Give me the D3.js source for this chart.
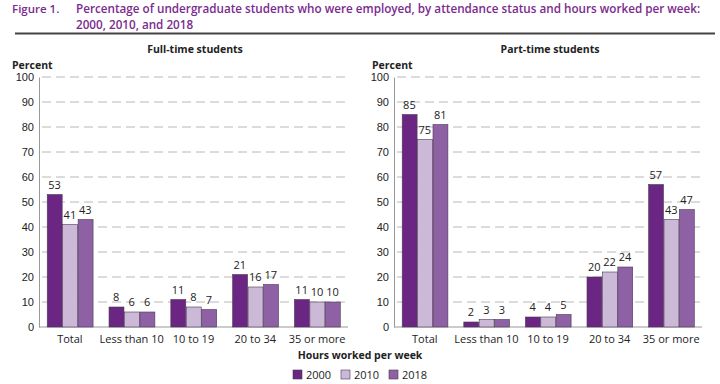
<!DOCTYPE html>
<html>
<head>
<meta charset="utf-8">
<script src="https://cdn.jsdelivr.net/npm/d3@7"></script>
<style>
  body { margin: 0; background: #fff; }
  svg { display: block; font-family: "Open Sans", "DejaVu Sans", sans-serif; }
</style>
</head>
<body>
<svg id="chart" width="720" height="384"></svg>
<script>
// Chart data
const categories = ["Total", "Less than 10", "10 to 19", "20 to 34", "35 or more"];
const years      = ["2000", "2010", "2018"];
const fullTime   = [[53, 41, 43], [8, 6, 6], [11, 8, 7], [21, 16, 17], [11, 10, 10]];
const partTime   = [[85, 75, 81], [2, 3, 3], [4, 4, 5], [20, 22, 24], [57, 43, 47]];
const yTicks     = [0, 10, 20, 30, 40, 50, 60, 70, 80, 90, 100];

const colors = d3.scaleOrdinal().domain(years).range(["#6b2683", "#cbb9d7", "#8e61a5"]);
const titleColor = "#7b2a8f";

const svg = d3.select("#chart");

// Title
let title = svg.append("g").attr("fill", titleColor).attr("font-weight", 600).attr("font-size", 12);
title.append("text").attr("x", 12).attr("y", 13).attr("font-size", 11.5).text("Figure 1.");
let line1 = title.append("text").attr("x", 76).attr("y", 13)
    .text("Percentage of undergraduate students who were employed, by attendance status and hours worked per week:");
let line2 = title.append("text").attr("x", 76).attr("y", 28.5).text("2000, 2010, and 2018");

// Shrink the long title line so it ends near the right edge
let fs = 12;
while (line1.node().getComputedTextLength() > 629 && fs > 8) {
    fs -= 0.1;
    line1.attr("font-size", fs);
}
line2.attr("font-size", fs);

svg.append("line")
    .attr("x1", 15).attr("x2", 715).attr("y1", 33.5).attr("y2", 33.5)
    .attr("stroke", "#444").attr("stroke-width", 2);

const y = d3.scaleLinear().domain([0, 100]).range([327, 77]);

/**
 * Draw one panel of grouped bars.
 */
function drawPanel(data, x0, x1, heading, headingX, percentX)
{
    let g = svg.append("g");

    let x = d3.scaleBand().domain(categories).range([x0, x1])
        .paddingInner(0.25).paddingOuter(0.125);
    let xs = d3.scaleBand().domain(years).range([0, x.bandwidth()]);

    g.append("text").attr("x", headingX).attr("y", 53)
        .attr("text-anchor", "middle").attr("font-weight", "bold").attr("font-size", 10.5)
        .attr("fill", "#222").text(heading);
    g.append("text").attr("x", percentX).attr("y", 69)
        .attr("font-weight", "bold").attr("font-size", 10.5)
        .attr("fill", "#222").text("Percent");

    // Dashed gridlines
    g.selectAll("line.grid")
        .data(yTicks.filter(d => d > 0))
        .enter().append("line")
        .attr("class", "grid")
        .attr("x1", x0 + 3).attr("x2", x1)
        .attr("y1", d => y(d)).attr("y2", d => y(d))
        .attr("stroke", "#b8b8b8").attr("stroke-dasharray", "9,5");

    // Y axis
    let axis = g.append("g")
        .attr("transform", `translate(${x0},0)`)
        .call(d3.axisLeft(y).tickValues(yTicks).tickSize(0).tickPadding(5));
    axis.select(".domain").attr("stroke", "#999");
    axis.selectAll("text").attr("font-size", 11).attr("fill", "#222");

    // Baseline
    g.append("line")
        .attr("x1", x0).attr("x2", x1)
        .attr("y1", y(0)).attr("y2", y(0))
        .attr("stroke", "#999");

    let groups = g.selectAll("g.group")
        .data(categories)
        .enter().append("g")
        .attr("class", "group")
        .attr("transform", d => `translate(${x(d)},0)`);

    groups.selectAll("rect")
        .data((d, i) => years.map((yr, j) => ({year: yr, value: data[i][j]})))
        .enter().append("rect")
        .attr("x", d => xs(d.year) + 0.5)
        .attr("y", d => y(d.value))
        .attr("width", xs.bandwidth() - 0.5)
        .attr("height", d => y(0) - y(d.value))
        .attr("fill", d => colors(d.year))
        .attr("stroke", "#4a3a52").attr("stroke-width", 0.6);

    groups.selectAll("text.value")
        .data((d, i) => years.map((yr, j) => ({year: yr, value: data[i][j]})))
        .enter().append("text")
        .attr("class", "value")
        .attr("x", d => xs(d.year) + xs.bandwidth() / 2)
        .attr("y", d => y(d.value) - 6)
        .attr("text-anchor", "middle").attr("font-size", 11).attr("fill", "#222")
        .text(d => d.value);

    // Category labels
    g.selectAll("text.cat")
        .data(categories)
        .enter().append("text")
        .attr("class", "cat")
        .attr("x", d => x(d) + x.bandwidth() / 2)
        .attr("y", 343)
        .attr("text-anchor", "middle").attr("font-size", 11).attr("fill", "#222")
        .text(d => d);
}

drawPanel(fullTime, 39, 348, "Full-time students", 195, 12);
drawPanel(partTime, 394, 702, "Part-time students", 550, 372);

svg.append("text").attr("x", 360).attr("y", 359)
    .attr("text-anchor", "middle").attr("font-weight", "bold").attr("font-size", 10.5)
    .attr("fill", "#222").text("Hours worked per week");

// Legend
let legend = svg.append("g").attr("transform", "translate(293,370)");
let items = legend.selectAll("g")
    .data(years)
    .enter().append("g")
    .attr("transform", (d, i) => `translate(${i * 48},0)`);
items.append("rect")
    .attr("width", 9).attr("height", 9)
    .attr("fill", d => colors(d))
    .attr("stroke", "#4a3a52").attr("stroke-width", 0.6);
items.append("text")
    .attr("x", 13).attr("y", 9)
    .attr("font-size", 11).attr("fill", "#222")
    .text(d => d);
</script>
</body>
</html>
